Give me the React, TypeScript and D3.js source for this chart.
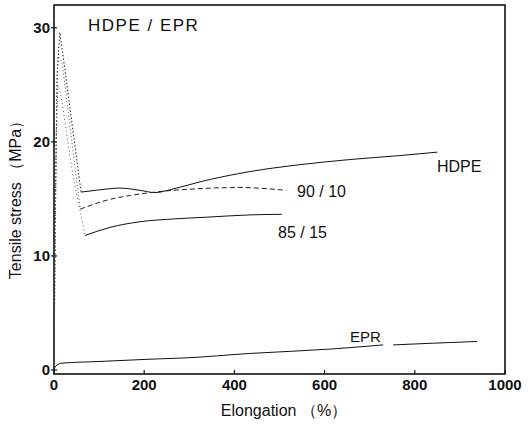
import React from "react";
import * as d3 from "d3";

// Elongation (%) / tensile stress (MPa)
const hdpeYield: [number, number][] = [[0, 0], [3, 14], [7, 26], [13, 29.6], [22, 27], [60, 15.6]];
const hdpe: [number, number][] = [[60, 15.6], [102, 15.8], [146, 15.95], [191, 15.75], [224, 15.55], [257, 15.8], [324, 16.5], [435, 17.4], [545, 18.0], [656, 18.45], [767, 18.8], [850, 19.1]];
const blend9010Yield: [number, number][] = [[0, 0], [3, 12], [6, 24], [9, 27.5], [18, 27], [58, 14.1]];
const blend9010: [number, number][] = [[58, 14.1], [118, 14.9], [169, 15.3], [224, 15.6], [324, 15.9], [412, 16.0], [470, 15.9], [515, 15.75]];
const blend8515Yield: [number, number][] = [[0, 0], [2, 10], [5, 21], [9, 25], [16, 24], [42, 17], [69, 11.8]];
const blend8515: [number, number][] = [[69, 11.8], [124, 12.5], [191, 13.0], [268, 13.25], [339, 13.4], [435, 13.6], [505, 13.65]];
const eprA: [number, number][] = [[0, 0], [4, 0.35], [18, 0.6], [102, 0.75], [213, 0.95], [286, 1.05], [434, 1.45], [619, 1.85], [730, 2.2]];
const eprB: [number, number][] = [[752, 2.2], [840, 2.35], [938, 2.5]];

const xTicks = [0, 200, 400, 600, 800, 1000];
const yTicks = [0, 10, 20, 30];

const W = 530, H = 426;
const L = 54, R = 505, T = 5, B = 374;

export default function App() {
  const x = d3.scaleLinear().domain([0, 1000]).range([L, R]);
  const y = d3.scaleLinear().domain([-0.35, 32.0]).range([B, T]);
  const smooth = d3.line<[number, number]>().x(d => x(d[0])).y(d => y(d[1])).curve(d3.curveMonotoneX);
  const straight = d3.line<[number, number]>().x(d => x(d[0])).y(d => y(d[1])).curve(d3.curveLinear);
  const font = "'Liberation Sans', Arial, sans-serif";
  const ink = "#111";
  return (
    <svg width={W} height={H} style={{ position: "absolute", left: 0, top: 0, background: "#fff" }} fontFamily={font}>
      {/* frame */}
      <rect x={L} y={T} width={R - L} height={B - T} fill="none" stroke={ink} strokeWidth={1.6} />
      {/* x ticks */}
      {xTicks.map(t => (
        <g key={"x" + t}>
          <line x1={x(t)} x2={x(t)} y1={B} y2={B - 4} stroke={ink} strokeWidth={1.2} />
          <text x={x(t)} y={B + 16} textAnchor="middle" fontSize={15} fontWeight={600} fill={ink}>{t}</text>
        </g>
      ))}
      {/* y ticks */}
      {yTicks.map(t => (
        <g key={"y" + t}>
          <line x1={L - 3} x2={L + 3} y1={y(t)} y2={y(t)} stroke={ink} strokeWidth={1.2} />
          <text x={L - 4} y={y(t) + 5} textAnchor="end" fontSize={15} fontWeight={600} fill={ink}>{t}</text>
        </g>
      ))}
      <text x={284} y={416} textAnchor="middle" fontSize={16} fill={ink}>Elongation （%）</text>
      <text transform="translate(21,196) rotate(-90)" textAnchor="middle" fontSize={16} fill={ink}>Tensile stress （MPa）</text>

      {/* yield regions, dotted */}
      <path d={straight(hdpeYield) || ""} fill="none" stroke="#333" strokeWidth={1.1} strokeDasharray="1.5,2" />
      <path d={straight(blend9010Yield) || ""} fill="none" stroke="#555" strokeWidth={1} strokeDasharray="1,2.5" />
      <path d={straight(blend8515Yield) || ""} fill="none" stroke="#555" strokeWidth={1} strokeDasharray="1,3" />

      {/* drawing regions */}
      <path d={smooth(hdpe) || ""} fill="none" stroke={ink} strokeWidth={1} />
      <path d={smooth(blend9010) || ""} fill="none" stroke="#222" strokeWidth={1} strokeDasharray="5,3" />
      <path d={smooth(blend8515) || ""} fill="none" stroke={ink} strokeWidth={1} />
      <path d={smooth(eprA) || ""} fill="none" stroke={ink} strokeWidth={1} />
      <path d={smooth(eprB) || ""} fill="none" stroke={ink} strokeWidth={1} />

      {/* labels */}
      <text x={88} y={31} fontSize={17} letterSpacing={1.5} fill={ink}>HDPE / EPR</text>
      <text x={437} y={172} fontSize={16} fill={ink}>HDPE</text>
      <text x={297} y={197} fontSize={16} fill={ink}>90 / 10</text>
      <text x={278} y={238} fontSize={16} fill={ink}>85 / 15</text>
      <text x={350} y={342} fontSize={15} fill={ink}>EPR</text>
    </svg>
  );
}
